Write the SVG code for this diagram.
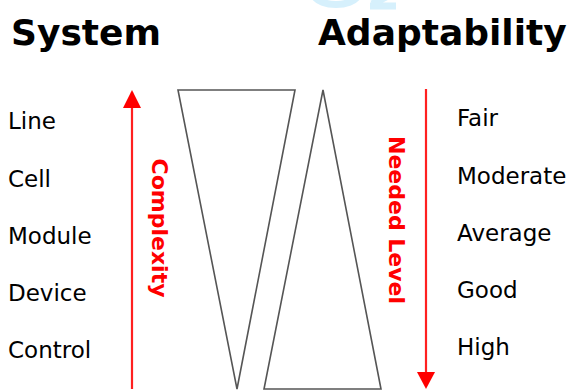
<svg xmlns="http://www.w3.org/2000/svg" width="570" height="390" viewBox="0 0 570 390">
<style>
.title{font-family:"DejaVu Sans",Verdana,sans-serif;font-weight:bold;font-size:36px;fill:#000}
.lbl{font-family:"DejaVu Sans",Verdana,sans-serif;font-size:23px;fill:#000}
.axis{font-family:"DejaVu Sans",Verdana,sans-serif;font-weight:bold;font-size:22px;fill:#ff0000}
.tri{fill:#fff;stroke:#555;stroke-width:1.6;stroke-linejoin:miter}
.arr{stroke:#ff2020;stroke-width:2.2;fill:none}
</style>
<defs>
<marker id="ah" viewBox="0 0 10 10" refX="10" refY="5" markerWidth="8" markerHeight="8" markerUnits="userSpaceOnUse" orient="auto">
<path d="M0,0 L10,5 L0,10 Z" fill="#ff0000"/>
</marker>
</defs>
<g id="watermark" fill="none" stroke="#d6f0fc" stroke-width="7">
<path d="M314,-4 A23,12 0 0 0 358,-4"/>
<path d="M370,6 L396,6 M372,4 L392,-6"/>
</g>
<g id="titles">
<text class="title" x="11" y="45">System</text>
<text class="title" x="318" y="45">Adaptability</text>
</g>
<g id="system-levels">
<text class="lbl" x="8" y="129">Line</text>
<text class="lbl" x="8" y="187">Cell</text>
<text class="lbl" x="8" y="244">Module</text>
<text class="lbl" x="8" y="301">Device</text>
<text class="lbl" x="8" y="358">Control</text>
</g>
<g id="adapt-levels">
<text class="lbl" x="457" y="126">Fair</text>
<text class="lbl" x="457" y="184">Moderate</text>
<text class="lbl" x="457" y="241">Average</text>
<text class="lbl" x="457" y="298">Good</text>
<text class="lbl" x="457" y="355">High</text>
</g>
<g id="triangles">
<polygon id="inverted" class="tri" points="178,90 295,90 237,389"/>
<polygon id="upright" class="tri" points="323,90 381,389 264,389"/>
</g>
<g id="connectors">
<path id="complexity-arrow" d="M132,389 L132,92" stroke="#ff2020" stroke-width="2.2"/>
<polygon points="123,108 141,108 132,90" fill="#ff0000"/>
<path id="needed-arrow" d="M426,89 L426,386" stroke="#ff2020" stroke-width="2.2"/>
<polygon points="417,372 435,372 426,389" fill="#ff0000"/>
</g>
<g id="axis-labels">
<text class="axis" transform="translate(152,228) rotate(90)" text-anchor="middle">Complexity</text>
<text class="axis" transform="translate(389,220) rotate(90)" text-anchor="middle">Needed Level</text>
</g>
</svg>
